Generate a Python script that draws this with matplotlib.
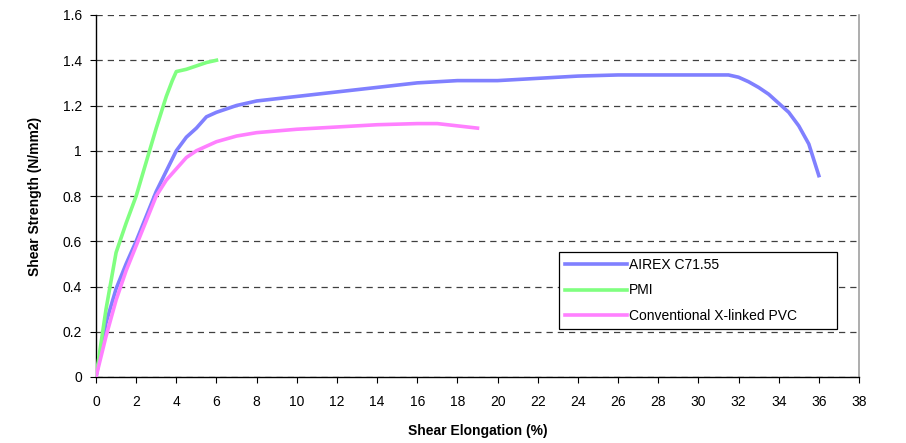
import matplotlib
matplotlib.use("Agg")
import matplotlib.pyplot as plt

plt.rcParams['font.family'] = ['Liberation Sans', 'DejaVu Sans']

# AIREX C71.55
airexX = [0, 0.5, 1, 1.5, 2, 2.5, 3, 3.5, 4, 4.5, 5, 5.5, 6, 7, 8, 10, 12, 14, 16, 18, 20, 22, 24, 26, 28, 30, 31.5,
          32, 32.5, 33, 33.5, 34, 34.5, 35, 35.5, 36]
airexY = [0, 0.24, 0.39, 0.5, 0.6, 0.71, 0.82, 0.91, 1.0, 1.06, 1.1, 1.15, 1.17, 1.2, 1.22, 1.24, 1.26, 1.28, 1.30,
          1.31, 1.31, 1.32, 1.33, 1.335, 1.335, 1.335, 1.335, 1.325, 1.305, 1.28, 1.25, 1.21, 1.17, 1.11, 1.03, 0.89]

# PMI
pmiX = [0, 0.5, 1, 1.5, 2, 2.5, 3, 3.5, 3.8, 4, 4.5, 5, 5.5, 6]
pmiY = [0, 0.3, 0.55, 0.68, 0.8, 0.95, 1.1, 1.24, 1.31, 1.35, 1.36, 1.375, 1.39, 1.4]

# Conventional X-linked PVC
pvcX = [0, 0.5, 1, 1.5, 2, 2.5, 3, 3.5, 4, 4.5, 5, 5.5, 6, 7, 8, 10, 12, 14, 16, 17, 18, 19]
pvcY = [0, 0.18, 0.34, 0.47, 0.58, 0.69, 0.8, 0.87, 0.92, 0.97, 1.0, 1.02, 1.04, 1.065, 1.08, 1.095, 1.105, 1.115,
        1.12, 1.12, 1.11, 1.1]

fig = plt.figure(figsize=(9.06, 4.43), dpi=100)
ax = fig.add_axes([96/906, (443-377)/443, 763/906, 362/443])

ax.plot(airexX, airexY, color='#8080FF', lw=2.6, label='AIREX C71.55', zorder=3)
ax.plot(pmiX, pmiY, color='#80FF80', lw=2.6, label='PMI', zorder=3)
ax.plot(pvcX, pvcY, color='#FF80FF', lw=2.6, label='Conventional X-linked PVC', zorder=3)

ax.set_xlim(0, 38)
ax.set_ylim(0, 1.6)
ax.set_xticks(range(0, 39, 2))
ax.set_yticks([0, 0.2, 0.4, 0.6, 0.8, 1, 1.2, 1.4, 1.6])
ax.set_yticklabels(['0', '0.2', '0.4', '0.6', '0.8', '1', '1.2', '1.4', '1.6'])
ax.tick_params(direction='out', length=4, width=0.8, labelsize=10, colors='black')
ax.tick_params(axis='x', pad=9)
ax.tick_params(axis='y', pad=6)
ax.yaxis.grid(True, linestyle=(0, (5, 4)), color='#404040', lw=0.9)
ax.set_axisbelow(True)

ax.spines['top'].set_visible(False)
ax.spines['right'].set_color('#a0a0a0')
ax.spines['right'].set_linewidth(1.2)
ax.spines['left'].set_linewidth(1)
ax.spines['bottom'].set_linewidth(1)

ax.set_xlabel('Shear Elongation (%)', fontsize=10, fontweight='bold', labelpad=11)
ax.set_ylabel('Shear Strength (N/mm2)', fontsize=10, fontweight='bold', labelpad=15)

leg = ax.legend(loc='upper left', bbox_to_anchor=(0.607, 0.124, 0.364, 0.221), mode='expand',
                borderaxespad=0, fancybox=False, edgecolor='black', fontsize=10, handlelength=4.4,
                handletextpad=0.15, labelspacing=0.8, borderpad=0.45, framealpha=1)
leg.get_frame().set_linewidth(0.9)

plt.savefig('out.png', dpi=100)
plt.close()
